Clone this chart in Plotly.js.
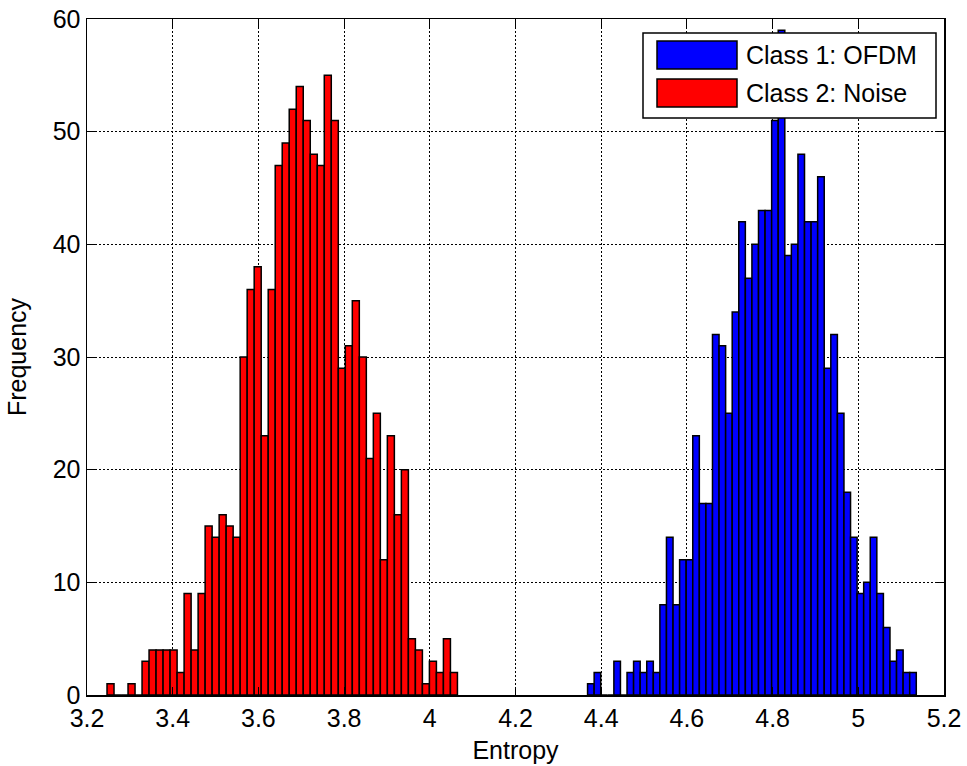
<!DOCTYPE html>
<html>
<head>
<meta charset="utf-8">
<script src="https://cdn.plot.ly/plotly-3.0.1.min.js"></script>
<style>html,body{margin:0;padding:0;background:#fff;}#chart{width:967px;height:766px;}</style>
</head>
<body>
<div id="chart"></div>
<script>
// ---- data (50 bins per class) ----
const seriesNames = ["Class 1: OFDM", "Class 2: Noise"];
const blueBinStart = 4.3682;
const blueBinWidth = 0.015342;
const blueCounts = [1,2,0,0,3,0,2,3,2,3,2,8,14,8,12,12,23,17,17,
  32,31,25,34,42,37,40,43,43,51,59,39,40,48,42,42,46,29,32,
  25,18,14,9,10,14,9,6,3,4,2,2];
const redBinStart = 3.2467;
const redBinWidth = 0.016356;
const redCounts = [1,0,0,1,0,3,4,4,4,4,2,9,4,9,15,14,16,15,14,
  30,36,38,23,36,47,49,52,54,51,48,47,55,51,29,31,35,30,
  21,25,12,23,16,20,5,4,1,3,2,5,2];
const xTickVals = [3.2,3.4,3.6,3.8,4.0,4.2,4.4,4.6,4.8,5.0,5.2];
const xTickText = ["3.2","3.4","3.6","3.8","4","4.2","4.4","4.6","4.8","5","5.2"];
const yTickVals = [0,10,20,30,40,50,60];

function centers(start, width, n) {
  const c = [];
  for (let i = 0; i < n; i++) c.push(start + width * (i + 0.5));
  return c;
}

const FONT = "Liberation Sans, Arial, Helvetica, sans-serif";
const FS = 25;
const W = 967, H = 766;
const M = {l: 87, r: 23, t: 19, b: 71};
const pw = W - M.l - M.r, ph = H - M.t - M.b;
const px = v => (v - M.l) / pw;
const py = v => (H - M.b - v) / ph;

const traces = [
  {
    type: "bar", name: seriesNames[0],
    x: centers(blueBinStart, blueBinWidth, blueCounts.length),
    y: blueCounts, width: blueBinWidth,
    marker: {color: "#0000ff", line: {color: "#000", width: 1.5}},
    showlegend: false, hoverinfo: "x+y"
  },
  {
    type: "bar", name: seriesNames[1],
    x: centers(redBinStart, redBinWidth, redCounts.length),
    y: redCounts, width: redBinWidth,
    marker: {color: "#ff0000", line: {color: "#000", width: 1.5}},
    showlegend: false, hoverinfo: "x+y"
  }
];

// custom MATLAB-like legend
const legBox = {x0: 643, x1: 936, y0: 33, y1: 118};
const sw = [{y0: 41, y1: 69, color: "#0000ff"}, {y0: 79, y1: 107, color: "#ff0000"}];
const shapes = [
  {type: "rect", xref: "paper", yref: "paper", layer: "above",
   x0: px(legBox.x0), x1: px(legBox.x1), y0: py(legBox.y1), y1: py(legBox.y0),
   fillcolor: "#fff", line: {color: "#000", width: 1.5}}
];
const annotations = [];
sw.forEach((s, i) => {
  shapes.push({type: "rect", xref: "paper", yref: "paper", layer: "above",
    x0: px(657), x1: px(737), y0: py(s.y1), y1: py(s.y0),
    fillcolor: s.color, line: {color: "#000", width: 1.5}});
  annotations.push({xref: "paper", yref: "paper", x: px(744), y: py((s.y0 + s.y1) / 2),
    xanchor: "left", yanchor: "middle", showarrow: false, text: seriesNames[i],
    font: {family: FONT, size: FS, color: "#000"}});
});

const axisCommon = {
  showline: true, linecolor: "#000", linewidth: 1.5, mirror: "ticks",
  ticks: "inside", ticklen: 8, tickwidth: 1, tickcolor: "#000",
  showgrid: true, gridcolor: "#000", gridwidth: 1, griddash: "2px,2px",
  zeroline: false, tickfont: {family: FONT, size: FS, color: "#000"},
  automargin: false
};

const layout = {
  width: W, height: H, margin: M,
  paper_bgcolor: "#fff", plot_bgcolor: "#fff",
  barmode: "overlay", bargap: 0,
  font: {family: FONT, color: "#000"},
  xaxis: Object.assign({}, axisCommon, {
    range: [3.2, 5.2], tickmode: "array", tickvals: xTickVals, ticktext: xTickText,
    title: {text: "Entropy", font: {family: FONT, size: FS, color: "#000"}, standoff: 11}
  }),
  yaxis: Object.assign({}, axisCommon, {
    range: [0, 60], tickmode: "array", tickvals: yTickVals,
    title: {text: "Frequency", font: {family: FONT, size: FS, color: "#000"}, standoff: 19}
  }),
  shapes: shapes, annotations: annotations
};

Plotly.newPlot("chart", traces, layout, {displayModeBar: false, staticPlot: true});
</script>
</body>
</html>
